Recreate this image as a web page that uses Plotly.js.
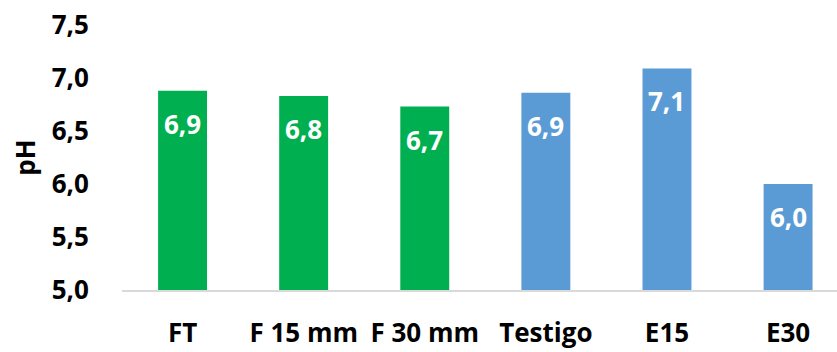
<!DOCTYPE html>
<html>
<head>
<meta charset="utf-8">
<script src="https://cdn.plot.ly/plotly-3.0.1.min.js"></script>
<style>
  html, body { margin: 0; padding: 0; background: #ffffff; }
  #chart { width: 837px; height: 352px; }
</style>
</head>
<body>
<div id="chart"></div>
<script>
// Soil pH by treatment
const categories = ['FT', 'F 15 mm', 'F 30 mm', 'Testigo', 'E15', 'E30'];
const phValues = [6.88, 6.83, 6.73, 6.86, 7.09, 6.0];
const barColors = ['#00B050', '#00B050', '#00B050', '#5B9BD5', '#5B9BD5', '#5B9BD5'];
const yTicks = [5.0, 5.5, 6.0, 6.5, 7.0, 7.5];

const FONT = '"Open Sans", Lato, "DejaVu Sans", sans-serif';
const SIZE = 26;

const fmt = v => v.toFixed(1).replace('.', ',');

const trace = {
  type: 'bar',
  x: categories,
  y: phValues,
  marker: { color: barColors, line: { width: 0 } },
  hoverinfo: 'skip'
};

// Value labels placed just inside each bar's top
const labels = categories.map((c, i) => ({
  x: c,
  y: phValues[i],
  xref: 'x',
  yref: 'y',
  text: '<b>' + fmt(phValues[i]) + '</b>',
  showarrow: false,
  yanchor: 'middle',
  yshift: -33,
  font: { family: FONT, size: SIZE, color: '#ffffff' }
}));

const layout = {
  width: 837,
  height: 352,
  margin: { l: 122, r: 0, t: 25, b: 62 },
  paper_bgcolor: '#ffffff',
  plot_bgcolor: '#ffffff',
  separators: ',.',
  bargap: 0.596,
  showlegend: false,
  font: { family: FONT, color: '#000000' },
  xaxis: {
    type: 'category',
    range: [-0.5, 5.404],
    showgrid: false,
    zeroline: false,
    showline: true,
    linecolor: '#d9d9d9',
    linewidth: 1.5,
    ticks: 'outside',
    ticklen: 19,
    tickcolor: 'rgba(0,0,0,0)',
    tickfont: { family: FONT, size: SIZE, color: '#000000', weight: 'bold' }
  },
  yaxis: {
    range: [5.0, 7.5],
    tickvals: yTicks,
    ticktext: yTicks.map(fmt),
    showgrid: false,
    zeroline: false,
    showline: false,
    ticks: 'outside',
    ticklen: 27,
    tickcolor: 'rgba(0,0,0,0)',
    tickfont: { family: FONT, size: SIZE, color: '#000000', weight: 'bold' },
    title: {
      text: '<b>pH</b>',
      font: { family: FONT, size: SIZE, color: '#000000' },
      standoff: 8
    }
  },
  annotations: labels
};

Plotly.newPlot('chart', [trace], layout, { staticPlot: true, displayModeBar: false });
</script>
</body>
</html>
